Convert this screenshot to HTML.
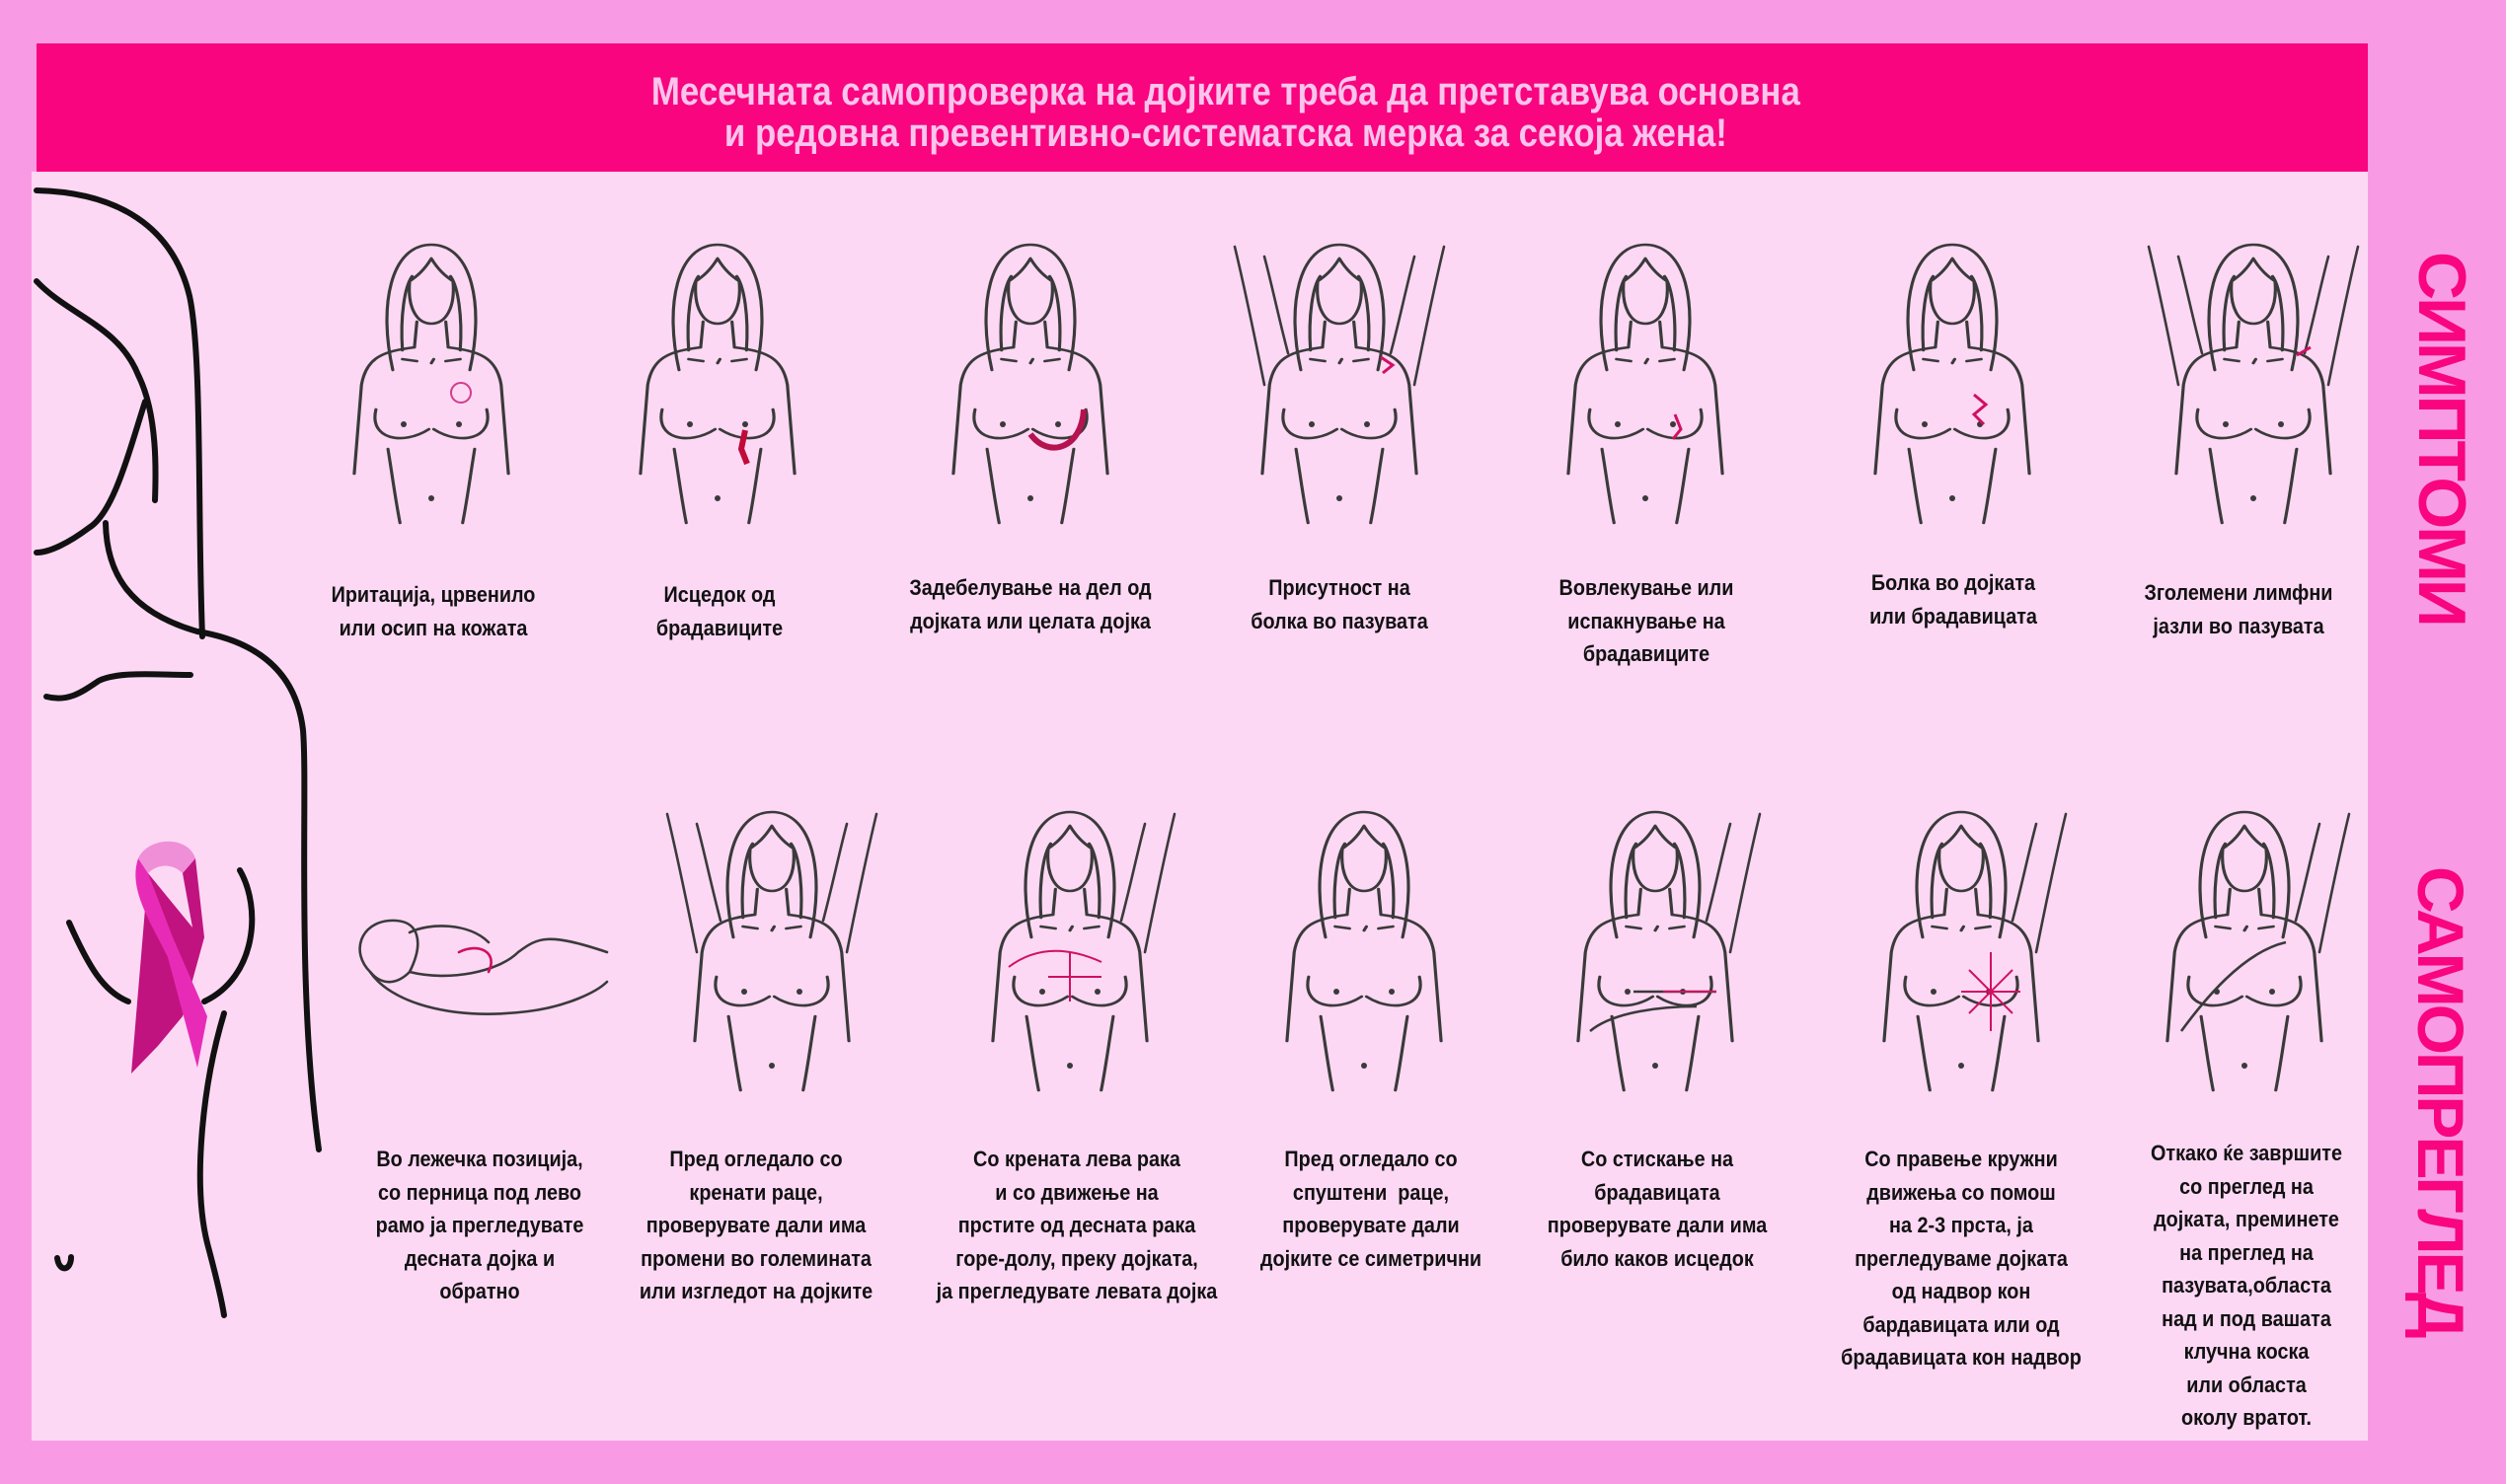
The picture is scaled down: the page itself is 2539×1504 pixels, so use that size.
<!DOCTYPE html>
<html><head><meta charset="utf-8">
<style>
html,body{margin:0;padding:0}
body{width:2539px;height:1504px;background:#f99be4;position:relative;overflow:hidden;font-family:"Liberation Sans",sans-serif}
#panel{position:absolute;left:32px;top:174px;width:2367px;height:1286px;background:#fcd8f4}
#head{position:absolute;left:37px;top:44px;width:2362px;height:130px;background:#f8057f}
.ht{position:absolute;left:24px;width:2362px;text-align:center;color:#fbc4ec;font-size:40px;font-weight:bold;line-height:42px;transform:scaleX(0.87);transform-origin:1180px 0}
.lab{position:absolute;width:420px;margin-left:-210px;text-align:center;font-weight:bold;font-size:22px;line-height:33.5px;color:#111;transform:scaleX(0.9)}
.vt{position:absolute;left:2435px;color:#f8057f;font-weight:bold;font-size:70px;writing-mode:vertical-rl;letter-spacing:-3px}
svg{position:absolute;left:0;top:0}
</style></head><body>
<div id="panel"></div>
<div id="head">
<div class="ht" style="top:28px">Месечната самопроверка на дојките треба да претставува основна</div>
<div class="ht" style="top:70px">и редовна превентивно-систематска мерка за секоја жена!</div>
</div>
<div class="vt" style="top:255px;font-size:68px">СИМПТОМИ</div>
<div class="vt" style="top:878px;font-size:66px">САМОПРЕГЛЕД</div>

<svg width="2539" height="1504" viewBox="0 0 2539 1504">
<defs>
<g id="base0" fill="none" stroke="#3a3a3a" stroke-width="2.6" stroke-linecap="round">
<path d="M50,135 C38,70 48,8 82,8 C116,8 126,70 114,135"/>
<path d="M58,115 C56,80 60,50 66,40 M106,115 C108,80 104,50 98,40"/>
<path d="M64,45 C62,72 70,88 82,88 C94,88 102,72 100,45 M82,22 C76,34 70,40 64,45 M82,22 C88,34 94,40 100,45"/>
<path d="M70,86 L68,112 M94,86 L96,112"/>
<path d="M68,112 C42,116 28,122 24,150 L18,240 M96,112 C122,116 136,122 140,150 L146,240"/>
<path d="M58,124 L70,126 M82,128 L84,124 M94,126 L106,124"/>
<path d="M36,175 C30,205 58,212 80,195 M84,195 C106,212 134,205 128,175"/>
<path d="M46,215 C50,245 52,265 56,290 M118,215 C114,245 112,265 108,290"/>
</g>
<g id="base" transform="translate(82,0) scale(1.22,1) translate(-82,0)"><use href="#base0"/></g>
<g id="dots" fill="#3a3a3a"><circle cx="54" cy="190" r="3"/><circle cx="110" cy="190" r="3"/><circle cx="82" cy="265" r="3"/></g>
<g id="fig"><use href="#base"/><use href="#dots"/></g>
<g id="rarm" fill="none" stroke="#3a3a3a" stroke-width="2.6" stroke-linecap="round"><path d="M158,150 C166,110 176,60 188,10 M134,118 C144,80 150,50 158,20"/></g>
<g id="larm" fill="none" stroke="#3a3a3a" stroke-width="2.6" stroke-linecap="round"><path d="M6,150 C-2,110 -12,60 -24,10 M30,118 C20,80 14,50 6,20"/></g>
</defs>

<g fill="none" stroke="#111" stroke-width="6" stroke-linecap="round">
<path d="M37,193 C120,195 175,230 192,300 C205,360 200,520 205,645"/>
<path d="M37,285 C70,320 120,330 140,380 C160,420 158,480 157,507"/>
<path d="M147,407 C130,460 115,520 90,535 C70,550 50,560 37,560"/>
<path d="M107,530 C108,580 130,620 200,640 C260,650 300,680 307,740 C312,800 300,1000 323,1165"/>
<path d="M47,706 C70,712 85,700 100,690 C120,680 160,684 193,684"/>
<path d="M70,935 C90,980 105,1005 130,1015"/>
<path d="M243,882 C265,920 260,990 207,1015"/>
<path d="M227,1027 C205,1100 195,1200 210,1260 C218,1290 225,1320 227,1333"/>
<path d="M58,1275 C60,1290 72,1288 72,1274"/>
</g>
<g>
<path d="M140,870 C150,848 190,846 198,870 L185,885 C175,875 160,875 150,885 Z" fill="#ef8fd8"/>
<path d="M150,885 L133,1088 L160,1060 L185,1030 L207,950 L198,870 L185,885 L195,940 Z" fill="#c0137f"/>
<path d="M140,870 C130,900 150,930 170,970 L200,1082 L210,1030 L175,950 L150,885 Z" fill="#e82bb7"/>
</g>

<g transform="translate(355,240)"><use href="#fig"/><circle cx="112" cy="158" r="10" fill="none" stroke="#d43b8c" stroke-width="2"/></g>
<g transform="translate(645,240)"><use href="#fig"/><path d="M110,196 L106,215 L112,230" stroke="#c00a3a" stroke-width="6" fill="none"/></g>
<g transform="translate(962,240)"><use href="#fig"/><path d="M82,200 C100,225 134,215 136,175" stroke="#b51250" stroke-width="6" fill="none"/></g>
<g transform="translate(1275,240)"><use href="#base"/><use href="#dots"/><use href="#rarm"/><use href="#larm"/><path d="M124,122 L136,130 L126,138" stroke="#d01063" stroke-width="3" fill="none"/></g>
<g transform="translate(1585,240)"><use href="#fig"/><path d="M112,180 L118,195 L110,205" stroke="#d01063" stroke-width="3" fill="none"/></g>
<g transform="translate(1896,240)"><use href="#fig"/><path d="M104,160 L116,170 L104,180 L114,190" stroke="#d01063" stroke-width="3" fill="none"/></g>
<g transform="translate(2201,240)"><use href="#base"/><use href="#dots"/><use href="#rarm"/><use href="#larm"/><path d="M126,120 L140,112" stroke="#d01063" stroke-width="3"/></g>

<g transform="translate(355,925)" fill="none" stroke="#3a3a3a" stroke-width="2.6" stroke-linecap="round">
<path d="M20,60 C0,40 10,10 40,8 C70,6 75,30 60,60 C45,75 30,72 20,60 Z"/>
<path d="M60,60 C100,70 150,60 170,40 C190,25 200,20 260,40 M20,60 C40,90 100,110 180,100 C220,95 250,80 260,70 M60,20 C80,10 120,10 140,30"/>
<path d="M110,40 C130,30 150,40 140,60" stroke="#d01063"/>
</g>
<g transform="translate(700,815)"><use href="#base"/><use href="#dots"/><use href="#rarm"/><use href="#larm"/></g>
<g transform="translate(1002,815)"><use href="#fig"/><use href="#rarm"/><path d="M20,165 C40,150 70,140 114,160 M82,150 L82,200 M60,175 L114,175" stroke="#d01063" stroke-width="2" fill="none"/></g>
<g transform="translate(1300,815)"><use href="#fig"/></g>
<g transform="translate(1595,815)"><use href="#fig"/><use href="#rarm"/><path d="M16,230 C40,210 90,205 124,205 M60,190 L144,190" stroke="#3a3a3a" stroke-width="2.6" fill="none"/><path d="M90,190 L144,190" stroke="#d01063" stroke-width="2"/></g>
<g transform="translate(1905,815)"><use href="#fig"/><use href="#rarm"/><path d="M112,150 L112,230 M82,190 L142,190 M90,168 L134,212 M134,168 L90,212" stroke="#d01063" stroke-width="2" fill="none"/></g>
<g transform="translate(2192,815)"><use href="#fig"/><use href="#rarm"/><path d="M18,230 C40,200 80,150 124,140" stroke="#3a3a3a" stroke-width="2.6" fill="none"/></g>
</svg>

<div class="lab" style="left:439px;top:586px">Иритација, црвенило<br>или осип на кожата</div>
<div class="lab" style="left:729px;top:586px">Исцедок од<br>брадавиците</div>
<div class="lab" style="left:1044px;top:579px">Задебелување на дел од<br>дојката или целата дојка</div>
<div class="lab" style="left:1357px;top:579px">Присутност на<br>болка во пазувата</div>
<div class="lab" style="left:1668px;top:579px">Вовлекување или<br>испакнување на<br>брадавиците</div>
<div class="lab" style="left:1979px;top:574px">Болка во дојката<br>или брадавицата</div>
<div class="lab" style="left:2268px;top:584px">Зголемени лимфни<br>јазли во пазувата</div>
<div class="lab" style="left:486px;top:1158px">Во лежечка позиција,<br>со перница под лево<br>рамо ја прегледувате<br>десната дојка и<br>обратно</div>
<div class="lab" style="left:766px;top:1158px">Пред огледало со<br>кренати раце,<br>проверувате дали има<br>промени во големината<br>или изгледот на дојките</div>
<div class="lab" style="left:1091px;top:1158px">Со кренатa лева рака<br>и со движење на<br>прстите од десната рака<br>горе-долу, преку дојката,<br>ја прегледувате левата дојка</div>
<div class="lab" style="left:1389px;top:1158px">Пред огледало со<br>спуштени&nbsp; раце,<br>проверувате дали<br>дојките се симетрични</div>
<div class="lab" style="left:1679px;top:1158px">Со стискање на<br>брадавицата<br>проверувате дали има<br>било каков исцедок</div>
<div class="lab" style="left:1987px;top:1158px">Со правење кружни<br>движења со помош<br>на 2-3 прста, ја<br>прегледуваме дојката<br>од надвор кон<br>бардавицата или од<br>брадавицата кон надвор</div>
<div class="lab" style="left:2276px;top:1152px">Откако ќе завршите<br>со преглед на<br>дојката, преминете<br>на преглед на<br>пазувата,областа<br>над и под вашата<br>клучна коска<br>или областа<br>околу вратот.</div>
</body></html>
